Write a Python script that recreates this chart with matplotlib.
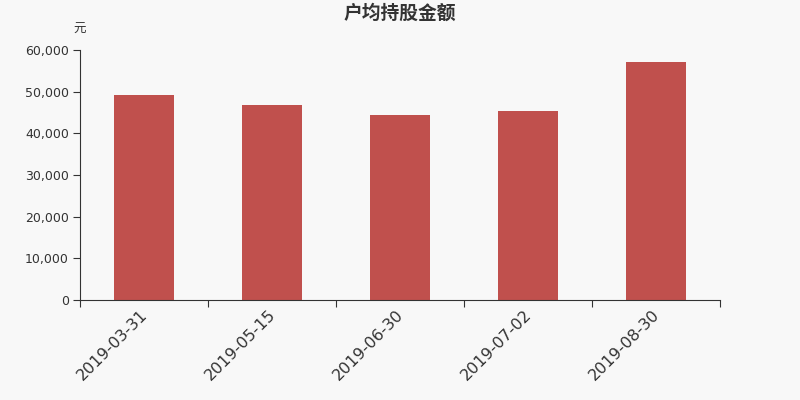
import matplotlib
matplotlib.use('Agg')
import matplotlib.pyplot as plt
import matplotlib.transforms as mtransforms
from matplotlib.ticker import FuncFormatter

plt.rcParams['font.family'] = ['DejaVu Sans', 'Noto Sans CJK SC']

# Data
dates = ['2019-03-31', '2019-05-15', '2019-06-30', '2019-07-02', '2019-08-30']
amounts = [49300, 46700, 44400, 45350, 57050]
yticks = [0, 10000, 20000, 30000, 40000, 50000, 60000]

bg = '#f8f8f8'
axis_col = '#333333'

fig = plt.figure(figsize=(8, 4), dpi=100)
fig.patch.set_facecolor(bg)
ax = fig.add_axes([0.1, 0.25, 0.8, 0.625])
ax.set_facecolor(bg)

x = range(len(dates))
ax.bar(x, amounts, width=0.47, color='#c0504d', zorder=2)

ax.set_xlim(-0.5, len(dates) - 0.5)
ax.set_ylim(0, 60000)
ax.set_yticks(yticks)
ax.yaxis.set_major_formatter(FuncFormatter(lambda v, p: f'{int(v):,}'))

# ticks on the category boundaries, labels under the bars
ax.set_xticks([i - 0.5 for i in range(len(dates) + 1)])
ax.set_xticklabels([])
ax.set_xticks(list(x), minor=True)
ax.set_xticklabels(dates, minor=True, rotation=45, ha='right',
                   rotation_mode='anchor', fontsize=11.5, color=axis_col)
ax.tick_params(axis='x', which='minor', length=0, pad=5)
ax.tick_params(axis='x', which='major', length=5, color=axis_col)
ax.tick_params(axis='y', length=5, color=axis_col, labelsize=9,
               labelcolor=axis_col, pad=3)

shift = mtransforms.ScaledTranslation(-4 / 100, 0, fig.dpi_scale_trans)
for lbl in ax.get_xticklabels(minor=True):
    lbl.set_transform(lbl.get_transform() + shift)

for s in ['top', 'right']:
    ax.spines[s].set_visible(False)
for s in ['left', 'bottom']:
    ax.spines[s].set_color(axis_col)

fig.text(0.5, 0.967, '户均持股金额', ha='center', va='center', fontsize=13.5,
         fontweight='bold', color=axis_col,
         family=['Noto Sans CJK SC', 'DejaVu Sans'])
fig.text(0.1, 0.927, '元', ha='center', va='center', fontsize=9,
         color=axis_col, family=['Noto Sans CJK SC', 'DejaVu Sans'])

fig.savefig('out.png', dpi=100, facecolor=bg)
